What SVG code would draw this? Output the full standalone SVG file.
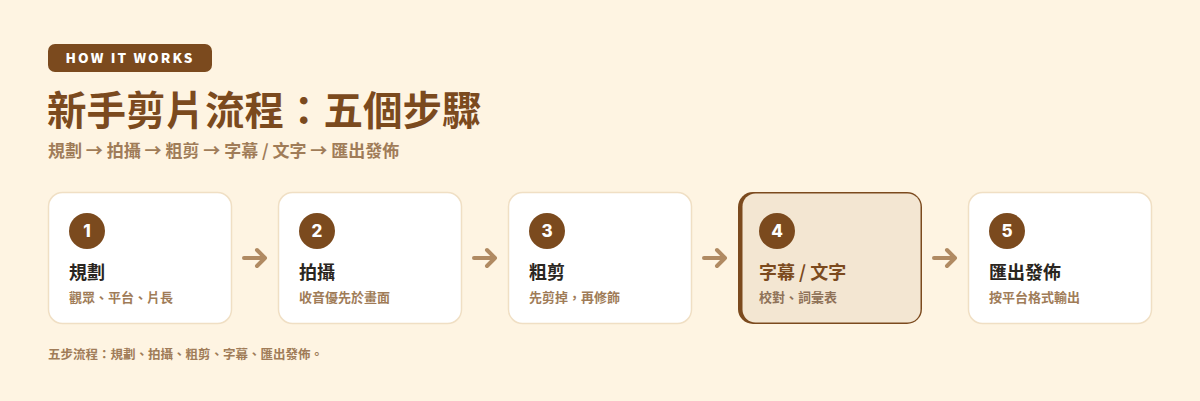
<svg xmlns="http://www.w3.org/2000/svg" width="1200" height="401" viewBox="0 0 1200 401">
<defs>
<style>
text{font-family:"Noto Sans CJK TC","Noto Sans",sans-serif}
.card{fill:#ffffff;stroke:#f0dfc4;stroke-width:1.5}
.num{fill:#7b4a1e}
.numt{fill:#ffffff;font-family:Inter,"Noto Sans",sans-serif;font-weight:800;font-size:17px;text-anchor:middle}
.ttl{fill:#2a2520;font-weight:700;font-size:18px}
.sub{fill:#a07c58;font-weight:700;font-size:13px}
.arr{fill:none;stroke:#b08a62;stroke-width:4;stroke-linecap:round;stroke-linejoin:round}
</style>
</defs>
<rect x="0" y="0" width="1200" height="401" fill="#fef4e2"/>
<g id="header">
<rect x="48" y="44" width="164" height="28" rx="7" fill="#7b4a1e"/>
<text x="130" y="63" fill="#ffffff" font-family="Inter,'Noto Sans',sans-serif" font-weight="800" font-size="13.5" letter-spacing="2.1" text-anchor="middle">HOW IT WORKS</text>
<text x="47" y="125" fill="#7b4a1e" font-weight="700" font-size="39.5">新手剪片流程：五個步驟</text>
<text x="48" y="157" fill="#a07c58" font-weight="700" font-size="17">規劃 → 拍攝 → 粗剪 → 字幕 / 文字 → 匯出發佈</text>
</g>
<g id="connectors">
<path class="arr" d="M244 258H265M257 250L265 258L257 266"/>
<path class="arr" d="M474 258H495M487 250L495 258L487 266"/>
<path class="arr" d="M704 258H725M717 250L725 258L717 266"/>
<path class="arr" d="M934 258H955M947 250L955 258L947 266"/>
</g>
<g id="step1">
<rect class="card" x="48.5" y="192.5" width="183" height="131" rx="14"/>
<circle class="num" cx="87" cy="231" r="18"/>
<text class="numt" x="87" y="237">1</text>
<text class="ttl" x="69" y="279">規劃</text>
<text class="sub" x="69" y="302">觀眾、平台、片長</text>
</g>
<g id="step2">
<rect class="card" x="278.5" y="192.5" width="183" height="131" rx="14"/>
<circle class="num" cx="317" cy="231" r="18"/>
<text class="numt" x="317" y="237">2</text>
<text class="ttl" x="299" y="279">拍攝</text>
<text class="sub" x="299" y="302">收音優先於畫面</text>
</g>
<g id="step3">
<rect class="card" x="508.5" y="192.5" width="183" height="131" rx="14"/>
<circle class="num" cx="547" cy="231" r="18"/>
<text class="numt" x="547" y="237">3</text>
<text class="ttl" x="529" y="279">粗剪</text>
<text class="sub" x="529" y="302">先剪掉，再修飾</text>
</g>
<g id="step4">
<rect x="738" y="192" width="184" height="132" rx="15" fill="#7b4a1e"/>
<rect x="742.5" y="193.5" width="178" height="129" rx="13" fill="#f3e6d2"/>
<circle class="num" cx="777" cy="231" r="18"/>
<text class="numt" x="777" y="237">4</text>
<text class="ttl" x="759" y="279" style="fill:#7b4a1e">字幕 / 文字</text>
<text class="sub" x="759" y="302" style="fill:#8f7258">校對、詞彙表</text>
</g>
<g id="step5">
<rect class="card" x="968.5" y="192.5" width="183" height="131" rx="14"/>
<circle class="num" cx="1007" cy="231" r="18"/>
<text class="numt" x="1007" y="237">5</text>
<text class="ttl" x="989" y="279">匯出發佈</text>
<text class="sub" x="989" y="302">按平台格式輸出</text>
</g>
<text x="48" y="359" fill="#a07c58" font-weight="700" font-size="12.5">五步流程：規劃、拍攝、粗剪、字幕、匯出發佈。</text>
</svg>
